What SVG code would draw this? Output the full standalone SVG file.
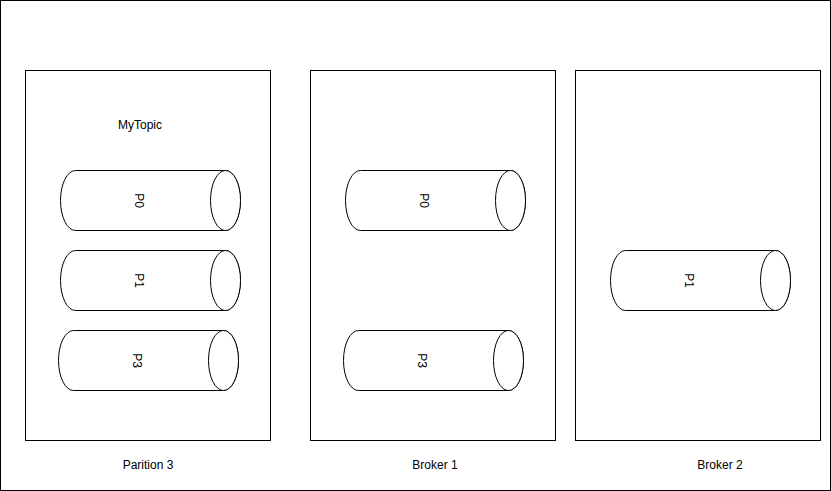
<svg xmlns="http://www.w3.org/2000/svg" xmlns:xlink="http://www.w3.org/1999/xlink" width="831" height="491" viewBox="0 0 831 491">
<style>
.box{fill:#fff;stroke:#000;stroke-width:1}
.cyl{fill:#fff;stroke:#000;stroke-width:1}
.t{font-family:"Liberation Sans",Arial,sans-serif;font-size:12px;fill:#000;text-anchor:middle;dominant-baseline:central}
</style>
<defs>
<g id="cylshape">
<path class="cyl" d="M15,0 L165,0 A15,30 0 0 1 165,60 L15,60 A15,30 0 0 1 15,0 Z"/>
<ellipse class="cyl" cx="165" cy="30" rx="15" ry="30"/>
</g>
</defs>
<rect x="0.5" y="0.5" width="830" height="490" fill="#fff" stroke="#000"/>
<g id="partition3">
<rect class="box" x="25.5" y="70.5" width="245" height="370"/>
<text class="t" x="148" y="465">Parition 3</text>
</g>
<g id="broker1">
<rect class="box" x="310.5" y="70.5" width="245" height="370"/>
<text class="t" x="435" y="465">Broker 1</text>
</g>
<g id="broker2">
<rect class="box" x="575.5" y="70.5" width="245" height="370"/>
<text class="t" x="720" y="465">Broker 2</text>
</g>
<g id="mytopic"><text class="t" x="140" y="125">MyTopic</text></g>
<g id="p3-p0" transform="translate(60.5,170.5)"><use xlink:href="#cylshape"/><text class="t" transform="rotate(90 78 30)" x="78" y="30">P0</text></g>
<g id="p3-p1" transform="translate(60.5,250.5)"><use xlink:href="#cylshape"/><text class="t" transform="rotate(90 78 30)" x="78" y="30">P1</text></g>
<g id="p3-p3" transform="translate(58.5,330.5)"><use xlink:href="#cylshape"/><text class="t" transform="rotate(90 78 30)" x="78" y="30">P3</text></g>
<g id="b1-p0" transform="translate(345.5,170.5)"><use xlink:href="#cylshape"/><text class="t" transform="rotate(90 78 30)" x="78" y="30">P0</text></g>
<g id="b1-p3" transform="translate(343.5,330.5)"><use xlink:href="#cylshape"/><text class="t" transform="rotate(90 78 30)" x="78" y="30">P3</text></g>
<g id="b2-p1" transform="translate(610.5,250.5)"><use xlink:href="#cylshape"/><text class="t" transform="rotate(90 78 30)" x="78" y="30">P1</text></g>
<g id="connectors"></g>
</svg>
